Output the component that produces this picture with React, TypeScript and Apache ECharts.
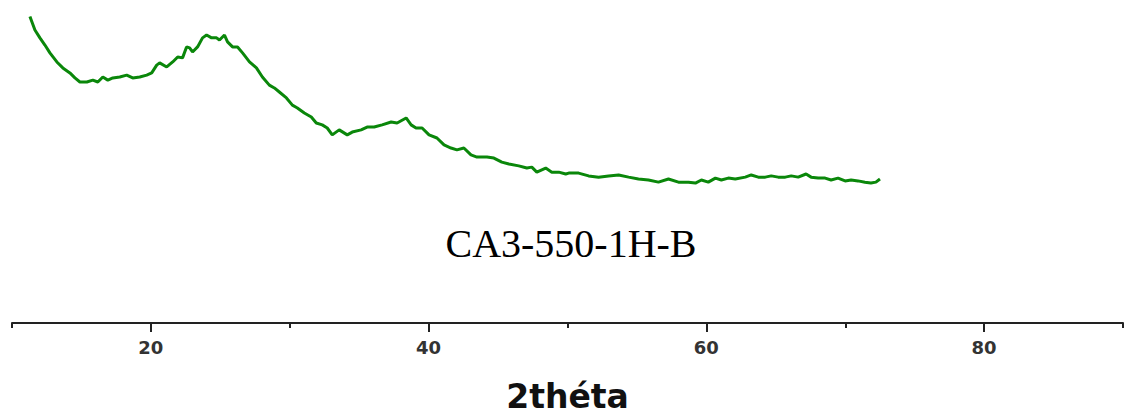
import React, { useEffect, useRef } from "react";
import * as echarts from "echarts";

const twoTheta = [
  11.29, 11.65, 12.01, 12.37, 12.73, 13.23, 13.66, 14.17, 14.53, 14.89, 15.39, 15.82, 16.18, 16.54, 16.9, 17.26,
  17.76, 18.26, 18.69, 19.2, 19.7, 20.06, 20.42, 20.63, 21.14, 21.57, 21.93, 22.28, 22.57, 22.79, 23.0, 23.36,
  23.72, 24.01, 24.37, 24.73, 24.94, 25.3, 25.52, 25.88, 26.24, 26.6, 27.1, 27.6, 28.03, 28.53, 28.89, 29.25,
  29.76, 30.19, 30.55, 31.05, 31.55, 31.91, 32.34, 32.7, 33.06, 33.56, 34.14, 34.5, 35.14, 35.57, 36.08, 36.65,
  37.3, 37.73, 38.38, 38.74, 39.09, 39.53, 40.03, 40.6, 41.11, 41.61, 42.04, 42.54, 43.05, 43.48, 44.2, 44.7,
  45.27, 45.78, 46.49, 47.07, 47.43, 47.79, 48.43, 48.87, 49.37, 49.87, 50.09, 50.8, 51.52, 52.24, 52.96, 53.68,
  54.4, 55.11, 55.83, 56.55, 57.27, 57.99, 58.71, 59.21, 59.64, 60.14, 60.65, 61.08, 61.58, 62.08, 62.8, 63.23,
  63.74, 64.24, 64.67, 65.17, 65.68, 66.11, 66.61, 67.18, 67.54, 68.05, 68.55, 68.98, 69.48, 69.99, 70.42, 70.92,
  71.42, 71.85, 72.21, 72.5,
];

const intensity = [
  97.9, 93.6, 91.1, 88.8, 86.3, 83.4, 81.5, 79.9, 78.3, 77.0, 77.0, 77.6, 77.0, 78.6, 77.6, 78.3,
  78.6, 79.2, 78.3, 78.6, 79.2, 79.9, 82.4, 83.1, 81.8, 83.4, 85.0, 84.7, 88.2, 87.9, 86.6, 88.2,
  91.1, 92.0, 91.1, 91.1, 90.4, 92.0, 89.8, 88.2, 88.2, 86.3, 83.4, 81.5, 78.6, 76.0, 75.1, 73.8,
  71.9, 69.6, 68.7, 67.1, 65.8, 63.9, 63.3, 62.3, 60.1, 61.7, 60.1, 61.0, 61.7, 62.6, 62.6, 63.3,
  64.2, 63.9, 65.5, 63.3, 62.3, 62.3, 60.1, 59.1, 56.9, 55.9, 55.3, 55.9, 53.7, 53.0, 53.0, 52.7,
  51.4, 50.8, 50.2, 49.5, 49.8, 48.2, 49.5, 48.2, 48.2, 47.6, 47.9, 47.9, 47.0, 46.6, 47.0, 47.3,
  46.6, 46.0, 45.7, 45.0, 46.0, 45.0, 45.0, 44.7, 45.7, 45.0, 46.3, 45.7, 46.3, 46.0, 46.6, 47.3,
  46.6, 46.6, 47.0, 46.6, 46.6, 47.0, 46.6, 47.6, 46.6, 46.3, 46.3, 45.7, 46.3, 45.4, 45.7, 45.4,
  45.0, 44.7, 45.0, 46.0,
];

const labeledTicks = [20, 40, 60, 80];
const sampleName = "CA3-550-1H-B";
const axisTitle = "2théta";

export default function App() {
  const ref = useRef<HTMLDivElement>(null);
  useEffect(() => {
    document.body.style.margin = "0";
    if (!ref.current) return;
    const chart = echarts.init(ref.current, null, { renderer: "svg" });
    const data = twoTheta.map((x, i) => [x, intensity[i]]);
    chart.setOption({
      animation: false,
      backgroundColor: "#ffffff",
      grid: { left: 12, right: 1, top: 10, bottom: 95 },
      xAxis: [
        {
          type: "value",
          min: 10,
          max: 90,
          interval: 10,
          position: "bottom",
          splitLine: { show: false },
          axisLine: { show: true, lineStyle: { color: "#222", width: 2 } },
          axisTick: { show: true, length: 5, lineStyle: { color: "#222", width: 2 } },
          axisLabel: {
            show: true,
            margin: 15,
            fontFamily: "DejaVu Sans",
            fontWeight: "bold",
            fontSize: 18,
            color: "#333",
            formatter: (v: number) => (labeledTicks.includes(v) ? String(v) : ""),
          },
          name: axisTitle,
          nameLocation: "middle",
          nameGap: 57,
          nameTextStyle: {
            fontFamily: "DejaVu Sans",
            fontWeight: "bold",
            fontSize: 33,
            color: "#111",
          },
        },
        {
          type: "value",
          min: 10,
          max: 90,
          interval: 10,
          position: "bottom",
          splitLine: { show: false },
          axisLine: { show: false },
          axisTick: {
            show: true,
            length: 9,
            customValues: labeledTicks,
            lineStyle: { color: "#222", width: 2 },
          },
          axisLabel: { show: false },
        },
      ],
      yAxis: { type: "value", min: 0, max: 100, show: false, splitLine: { show: false } },
      graphic: [
        {
          type: "text",
          x: 571,
          y: 243,
          style: {
            text: sampleName,
            fontFamily: "Liberation Serif",
            fontSize: 40,
            fill: "#000",
            align: "center",
            verticalAlign: "middle",
          },
        },
      ],
      series: [
        {
          type: "line",
          xAxisIndex: 0,
          data,
          showSymbol: false,
          symbol: "none",
          lineStyle: { color: "#0a870a", width: 3 },
        },
      ],
    });
    return () => chart.dispose();
  }, []);
  return <div ref={ref} style={{ width: 1126, height: 418 }} />;
}
